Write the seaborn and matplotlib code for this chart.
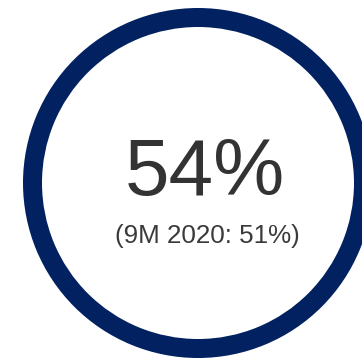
import matplotlib
matplotlib.use("Agg")
import matplotlib.pyplot as plt
import seaborn as sns

# Ring share (full ring) and the figures written inside it
ring_share = [100]
ring_color = "#012161"
headline = "54%"
comparison = "(9M 2020: 51%)"

sns.set_theme(style="white")
plt.rcParams["font.family"] = ["Liberation Sans", "DejaVu Sans"]

W, H = 362, 359
fig = plt.figure(figsize=(W / 100, H / 100), dpi=100)
ax = fig.add_axes([0, 0, 1, 1])
ax.set_xlim(0, W)
ax.set_ylim(0, H)
ax.set_aspect("equal")
ax.axis("off")

ax.pie(ring_share, colors=[ring_color], startangle=90, counterclock=False,
       center=(198, 176), radius=175, frame=True,
       wedgeprops=dict(width=19, linewidth=0))
ax.set_xlim(0, W)
ax.set_ylim(0, H)
ax.axis("off")

ax.text(205, 164, headline, ha="center", va="baseline",
        fontsize=57.6, color="#333333")
ax.text(207, 116, comparison, ha="center", va="baseline",
        fontsize=18.7, color="#3a3a3a")

fig.savefig("out.png", dpi=100, facecolor="white")
